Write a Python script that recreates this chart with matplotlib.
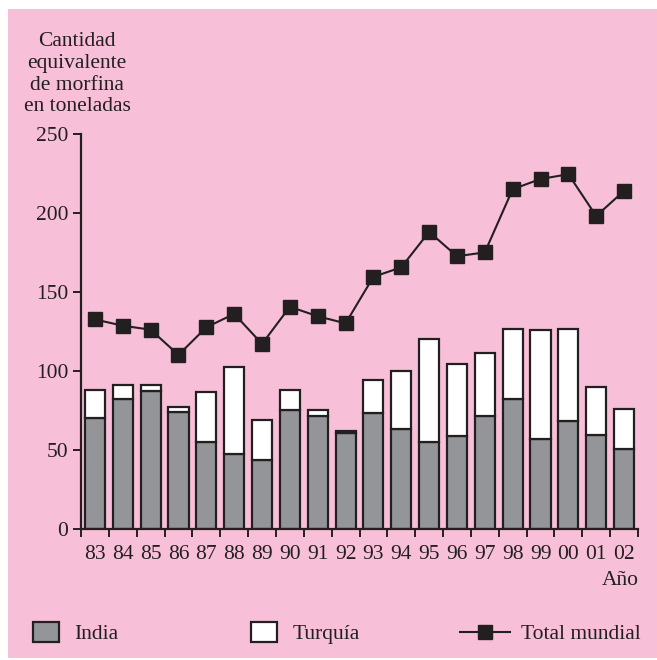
import matplotlib
matplotlib.use('Agg')
import matplotlib.pyplot as plt
from matplotlib.patches import Rectangle
from matplotlib.lines import Line2D
import numpy as np

years = ['83', '84', '85', '86', '87', '88', '89', '90', '91', '92',
         '93', '94', '95', '96', '97', '98', '99', '00', '01', '02']
india = [70, 82, 87, 74, 55, 47.5, 43.5, 75, 71, 60.5,
         73, 63, 54.5, 58.5, 71, 82, 57, 68, 59, 50.5]
turquia = [18, 9, 4, 3, 31.5, 55, 25.5, 13, 4, 1.5,
           21, 36.5, 65.5, 46, 40.5, 44.5, 68.5, 58.5, 30.5, 25]
total_mundial = [132.5, 128.5, 126, 110, 127.5, 136, 117, 140.5, 134.5, 130,
                 159.5, 165.5, 188, 172.5, 175, 215, 221.5, 224.5, 198, 214]

PINK = '#f7c0d8'
GREY = '#939598'
INK = '#231f20'
W, H = 657, 660
FS = 15.5

plt.rcParams['font.family'] = ['Liberation Serif', 'DejaVu Serif']
plt.rcParams['text.color'] = INK

fig = plt.figure(figsize=(W / 100, H / 100), dpi=100, facecolor='white')
fig.patches.append(Rectangle((8 / W, 2 / H), 1 - 8 / W, 1 - 11 / H,
                             transform=fig.transFigure, facecolor=PINK,
                             edgecolor='none', zorder=-10))

ax = fig.add_axes([81 / W, 1 - 528.5 / H, (638 - 81) / W, (528.5 - 134) / H])
ax.set_facecolor('none')

x = np.arange(len(years))
bw = 0.72
ax.bar(x, india, bw, color=GREY, edgecolor=INK, linewidth=1.6, zorder=2)
ax.bar(x, turquia, bw, bottom=india, color='white', edgecolor=INK,
       linewidth=1.6, zorder=2)
ax.plot(x, total_mundial, color=INK, linewidth=1.5, marker='s',
        markersize=9.5, markerfacecolor=INK, markeredgecolor=INK, zorder=3)

ax.set_xlim(-0.5, len(years) - 0.5)
ax.set_ylim(0, 250)
ax.set_yticks([0, 50, 100, 150, 200, 250])
ax.set_xticks(x, years)
ax.set_xticks(np.arange(len(years) + 1) - 0.5, minor=True)
for s in ['top', 'right']:
    ax.spines[s].set_visible(False)
for s in ['left', 'bottom']:
    ax.spines[s].set_linewidth(1.6)
    ax.spines[s].set_color(INK)
ax.tick_params(axis='x', which='major', length=0, pad=12, labelsize=FS,
               colors=INK)
ax.tick_params(axis='x', which='minor', length=6, width=1.4, color=INK)
ax.tick_params(axis='y', length=6, width=1.4, pad=3, labelsize=FS,
               colors=INK)

fig.text(77 / W, 1 - 32 / H, 'Cantidad\nequivalente\nde morfina\nen toneladas',
         ha='center', va='top', fontsize=FS, linespacing=1.2)
fig.text(639 / W, 1 - 585 / H, 'Año', ha='right', va='baseline', fontsize=FS)

# legend
ly = 1 - 632 / H
base = 1 - 639 / H
fig.patches.append(Rectangle((33 / W, 1 - 642 / H), 26 / W, 20 / H,
                             transform=fig.transFigure, facecolor=GREY,
                             edgecolor=INK, linewidth=1.6))
fig.text(74 / W, base, 'India', ha='left', va='baseline', fontsize=FS)
fig.patches.append(Rectangle((251 / W, 1 - 642 / H), 26 / W, 20 / H,
                             transform=fig.transFigure, facecolor='white',
                             edgecolor=INK, linewidth=1.6))
fig.text(293 / W, base, 'Turquía', ha='left', va='baseline', fontsize=FS)
fig.lines.append(Line2D([460 / W, 510 / W], [ly, ly], transform=fig.transFigure,
                        color=INK, linewidth=1.5, figure=fig))
fig.lines.append(Line2D([485 / W], [ly], transform=fig.transFigure,
                        color=INK, marker='s', markersize=9.5, linestyle='none',
                        figure=fig))
fig.text(521 / W, base, 'Total mundial', ha='left', va='baseline', fontsize=FS)

fig.savefig('out.png', dpi=100, facecolor='white')
